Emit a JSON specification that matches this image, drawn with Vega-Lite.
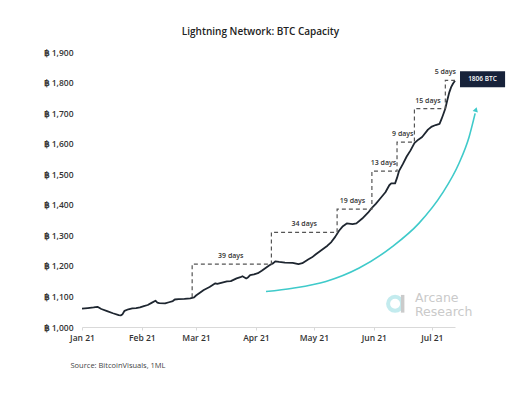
{
  "$schema": "https://vega.github.io/schema/vega-lite/v6.json",
  "autosize": {"type": "none"},
  "width": 373,
  "height": 275,
  "padding": {"left": 82, "top": 52, "right": 69, "bottom": 69},
  "background": "white",
  "config": {"view": {"stroke": null}, "font": "Open Sans"},
  "title": {
    "text": "Lightning Network: BTC Capacity",
    "anchor": "middle",
    "frame": "group",
    "dx": -8,
    "offset": 1,
    "baseline": "bottom",
    "font": "Open Sans",
    "fontSize": 10,
    "fontWeight": 600,
    "color": "#222222"
  },
  "encoding": {
    "x": {
      "field": "date",
      "type": "temporal",
      "scale": {
        "type": "utc",
        "domain": [
          {"year": 2021, "month": 1, "date": 1, "utc": true},
          {"year": 2021, "month": 7, "date": 13, "utc": true}
        ]
      },
      "axis": {
        "values": [
          {"year": 2021, "month": 1, "date": 1, "utc": true},
          {"year": 2021, "month": 2, "date": 1, "utc": true},
          {"year": 2021, "month": 3, "date": 1, "utc": true},
          {"year": 2021, "month": 4, "date": 1, "utc": true},
          {"year": 2021, "month": 5, "date": 1, "utc": true},
          {"year": 2021, "month": 6, "date": 1, "utc": true},
          {"year": 2021, "month": 7, "date": 1, "utc": true}
        ],
        "format": "%b %y",
        "grid": false,
        "labelFlush": false,
        "domainColor": "#d9d9d9",
        "tickColor": "#d9d9d9",
        "tickSize": 3,
        "labelPadding": 3,
        "labelFont": "Open Sans",
        "labelFontSize": 8.5,
        "labelFontWeight": 600,
        "labelColor": "#333333",
        "title": "Source: BitcoinVisuals, 1ML",
        "titleFont": "Open Sans",
        "titleFontSize": 7.5,
        "titleFontWeight": "normal",
        "titleColor": "#444444",
        "titleAlign": "left",
        "titleBaseline": "middle",
        "titleAngle": 0,
        "titleX": -12,
        "titleY": 38
      }
    },
    "y": {
      "field": "value",
      "type": "quantitative",
      "scale": {"domain": [1000, 1900], "zero": false},
      "axis": {
        "values": [1000, 1100, 1200, 1300, 1400, 1500, 1600, 1700, 1800, 1900],
        "labelExpr": "'฿\u2009' + format(datum.value, ',')",
        "domain": false,
        "ticks": false,
        "grid": false,
        "labelPadding": 9,
        "labelFont": "Open Sans",
        "labelFontSize": 8.5,
        "labelFontWeight": 600,
        "labelColor": "#333333",
        "title": null
      }
    }
  },
  "layer": [
    {
      "data": {"values": [
        {"date": "2021-01-01", "value": 1060},
        {"date": "2021-01-04", "value": 1062},
        {"date": "2021-01-07", "value": 1064},
        {"date": "2021-01-09", "value": 1066},
        {"date": "2021-01-11", "value": 1059},
        {"date": "2021-01-14", "value": 1052},
        {"date": "2021-01-17", "value": 1045},
        {"date": "2021-01-20", "value": 1039},
        {"date": "2021-01-21", "value": 1038},
        {"date": "2021-01-22", "value": 1042},
        {"date": "2021-01-23", "value": 1053},
        {"date": "2021-01-25", "value": 1058},
        {"date": "2021-01-27", "value": 1061},
        {"date": "2021-01-29", "value": 1062},
        {"date": "2021-01-31", "value": 1064},
        {"date": "2021-02-02", "value": 1068},
        {"date": "2021-02-04", "value": 1072},
        {"date": "2021-02-06", "value": 1079},
        {"date": "2021-02-08", "value": 1086},
        {"date": "2021-02-09", "value": 1080},
        {"date": "2021-02-10", "value": 1078},
        {"date": "2021-02-13", "value": 1077},
        {"date": "2021-02-15", "value": 1081},
        {"date": "2021-02-17", "value": 1085},
        {"date": "2021-02-18", "value": 1090},
        {"date": "2021-02-20", "value": 1091},
        {"date": "2021-02-23", "value": 1092},
        {"date": "2021-02-26", "value": 1094},
        {"date": "2021-02-28", "value": 1097},
        {"date": "2021-03-01", "value": 1103},
        {"date": "2021-03-03", "value": 1112},
        {"date": "2021-03-05", "value": 1121},
        {"date": "2021-03-08", "value": 1131},
        {"date": "2021-03-10", "value": 1139},
        {"date": "2021-03-11", "value": 1143},
        {"date": "2021-03-12", "value": 1141},
        {"date": "2021-03-15", "value": 1146},
        {"date": "2021-03-17", "value": 1149},
        {"date": "2021-03-19", "value": 1150},
        {"date": "2021-03-22", "value": 1159},
        {"date": "2021-03-24", "value": 1163},
        {"date": "2021-03-25", "value": 1166},
        {"date": "2021-03-27", "value": 1159},
        {"date": "2021-03-28", "value": 1163},
        {"date": "2021-03-29", "value": 1170},
        {"date": "2021-03-31", "value": 1172},
        {"date": "2021-04-02", "value": 1176},
        {"date": "2021-04-04", "value": 1184},
        {"date": "2021-04-06", "value": 1193},
        {"date": "2021-04-08", "value": 1202},
        {"date": "2021-04-10", "value": 1209},
        {"date": "2021-04-11", "value": 1215},
        {"date": "2021-04-13", "value": 1213},
        {"date": "2021-04-16", "value": 1211},
        {"date": "2021-04-20", "value": 1210},
        {"date": "2021-04-23", "value": 1206},
        {"date": "2021-04-25", "value": 1209},
        {"date": "2021-04-28", "value": 1221},
        {"date": "2021-04-30", "value": 1228},
        {"date": "2021-05-02", "value": 1238},
        {"date": "2021-05-05", "value": 1252},
        {"date": "2021-05-08", "value": 1266},
        {"date": "2021-05-10", "value": 1278},
        {"date": "2021-05-12", "value": 1295},
        {"date": "2021-05-14", "value": 1315},
        {"date": "2021-05-16", "value": 1330},
        {"date": "2021-05-18", "value": 1339},
        {"date": "2021-05-21", "value": 1337},
        {"date": "2021-05-23", "value": 1339},
        {"date": "2021-05-26", "value": 1355},
        {"date": "2021-05-29", "value": 1374},
        {"date": "2021-05-31", "value": 1390},
        {"date": "2021-06-02", "value": 1403},
        {"date": "2021-06-04", "value": 1418},
        {"date": "2021-06-07", "value": 1441},
        {"date": "2021-06-09", "value": 1464},
        {"date": "2021-06-10", "value": 1470},
        {"date": "2021-06-12", "value": 1470},
        {"date": "2021-06-13", "value": 1488},
        {"date": "2021-06-14", "value": 1510},
        {"date": "2021-06-16", "value": 1533},
        {"date": "2021-06-18", "value": 1558},
        {"date": "2021-06-20", "value": 1578},
        {"date": "2021-06-22", "value": 1602},
        {"date": "2021-06-24", "value": 1613},
        {"date": "2021-06-26", "value": 1622},
        {"date": "2021-06-29", "value": 1646},
        {"date": "2021-07-01", "value": 1656},
        {"date": "2021-07-03", "value": 1661},
        {"date": "2021-07-05", "value": 1665},
        {"date": "2021-07-06", "value": 1680},
        {"date": "2021-07-07", "value": 1697},
        {"date": "2021-07-08", "value": 1715},
        {"date": "2021-07-09", "value": 1742},
        {"date": "2021-07-10", "value": 1767},
        {"date": "2021-07-11", "value": 1785},
        {"date": "2021-07-12", "value": 1797},
        {"date": "2021-07-13", "value": 1806}
      ]},
      "mark": {"type": "line", "color": "#1e2630", "strokeWidth": 1.8, "strokeJoin": "round"}
    },
    {
      "data": {"values": [
        {"i": 1, "date": "2021-02-27", "value": 1097},
        {"i": 2, "date": "2021-02-27", "value": 1206},
        {"i": 3, "date": "2021-04-09", "value": 1206},
        {"i": 4, "date": "2021-04-09", "value": 1310},
        {"i": 5, "date": "2021-05-13", "value": 1310},
        {"i": 6, "date": "2021-05-13", "value": 1386},
        {"i": 7, "date": "2021-05-31", "value": 1386},
        {"i": 8, "date": "2021-05-31", "value": 1510},
        {"i": 9, "date": "2021-06-13", "value": 1510},
        {"i": 10, "date": "2021-06-13", "value": 1605},
        {"i": 11, "date": "2021-06-22", "value": 1605},
        {"i": 12, "date": "2021-06-22", "value": 1715},
        {"i": 13, "date": "2021-07-08", "value": 1715},
        {"i": 14, "date": "2021-07-08", "value": 1807},
        {"i": 15, "date": "2021-07-13", "value": 1807}
      ]},
      "mark": {"type": "line", "color": "#555555", "strokeWidth": 1.2, "strokeDash": [4, 3]},
      "encoding": {"order": {"field": "i", "type": "quantitative"}}
    },
    {
      "data": {"values": [
        {"date": "2021-03-19", "value": 1206, "label": "39 days"},
        {"date": "2021-04-26", "value": 1310, "label": "34 days"},
        {"date": "2021-05-21", "value": 1386, "label": "19 days"},
        {"date": "2021-06-06", "value": 1510, "label": "13 days"},
        {"date": "2021-06-16", "value": 1605, "label": "9 days"},
        {"date": "2021-06-29", "value": 1715, "label": "15 days"},
        {"date": "2021-07-08", "value": 1807, "label": "5 days"}
      ]},
      "mark": {"type": "text", "dy": -8, "fontSize": 7, "fontWeight": 600, "color": "#333333", "font": "Open Sans"},
      "encoding": {"text": {"field": "label"}}
    },
    {
      "data": {"values": [
        {"i": 1, "date": "2021-04-06T05:00:00Z", "value": 1116},
        {"i": 2, "date": "2021-04-20T00:00:00Z", "value": 1127},
        {"i": 3, "date": "2021-05-07T05:00:00Z", "value": 1149},
        {"i": 4, "date": "2021-05-24T10:00:00Z", "value": 1193},
        {"i": 5, "date": "2021-06-10T14:00:00Z", "value": 1263},
        {"i": 6, "date": "2021-06-24T10:00:00Z", "value": 1340},
        {"i": 7, "date": "2021-07-06T12:00:00Z", "value": 1438},
        {"i": 8, "date": "2021-07-15T02:00:00Z", "value": 1536},
        {"i": 9, "date": "2021-07-20T07:00:00Z", "value": 1622},
        {"i": 10, "date": "2021-07-23T10:00:00Z", "value": 1699}
      ]},
      "mark": {"type": "line", "color": "#3fcaca", "strokeWidth": 1.6, "interpolate": "monotone"},
      "encoding": {"order": {"field": "i", "type": "quantitative"}}
    },
    {
      "data": {"values": [
        {"date": "2021-07-23T20:00:00Z", "value": 1712}
      ]},
      "mark": {"type": "point", "shape": "triangle-up", "size": 30, "angle": 17, "filled": true, "color": "#3fcaca", "opacity": 1}
    },
    {
      "data": {"values": [
        {"date": "2021-07-15T14:00:00Z", "value": 1837, "date2": "2021-08-07T22:00:00Z", "value2": 1785}
      ]},
      "mark": {"type": "rect", "color": "#17223a"},
      "encoding": {
        "x2": {"field": "date2"},
        "y2": {"field": "value2"}
      }
    },
    {
      "data": {"values": [
        {"date": "2021-07-27T05:00:00Z", "value": 1811, "label": "1806 BTC"}
      ]},
      "mark": {"type": "text", "color": "white", "fontSize": 6.5, "fontWeight": 600, "font": "Open Sans", "baseline": "middle"},
      "encoding": {"text": {"field": "label"}}
    },
    {
      "data": {"values": [
        {"date": "2021-06-12T00:00:00Z", "value": 1076}
      ]},
      "mark": {"type": "point", "shape": "circle", "size": 196, "filled": false, "stroke": "#c3ebee", "strokeWidth": 4, "opacity": 1}
    },
    {
      "data": {"values": [
        {"date": "2021-06-15T22:00:00Z", "value": 1105, "value2": 1047}
      ]},
      "mark": {"type": "rule", "color": "#cbcbcb", "strokeWidth": 3.5},
      "encoding": {"y2": {"field": "value2"}}
    },
    {
      "data": {"values": [
        {"date": "2021-06-22T07:00:00Z", "value": 1094, "label": "Arcane"},
        {"date": "2021-06-22T07:00:00Z", "value": 1049, "label": "Research"}
      ]},
      "mark": {"type": "text", "align": "left", "baseline": "middle", "fontSize": 12.5, "font": "DejaVu Sans", "color": "#cacaca"},
      "encoding": {"text": {"field": "label"}}
    }
  ]
}
